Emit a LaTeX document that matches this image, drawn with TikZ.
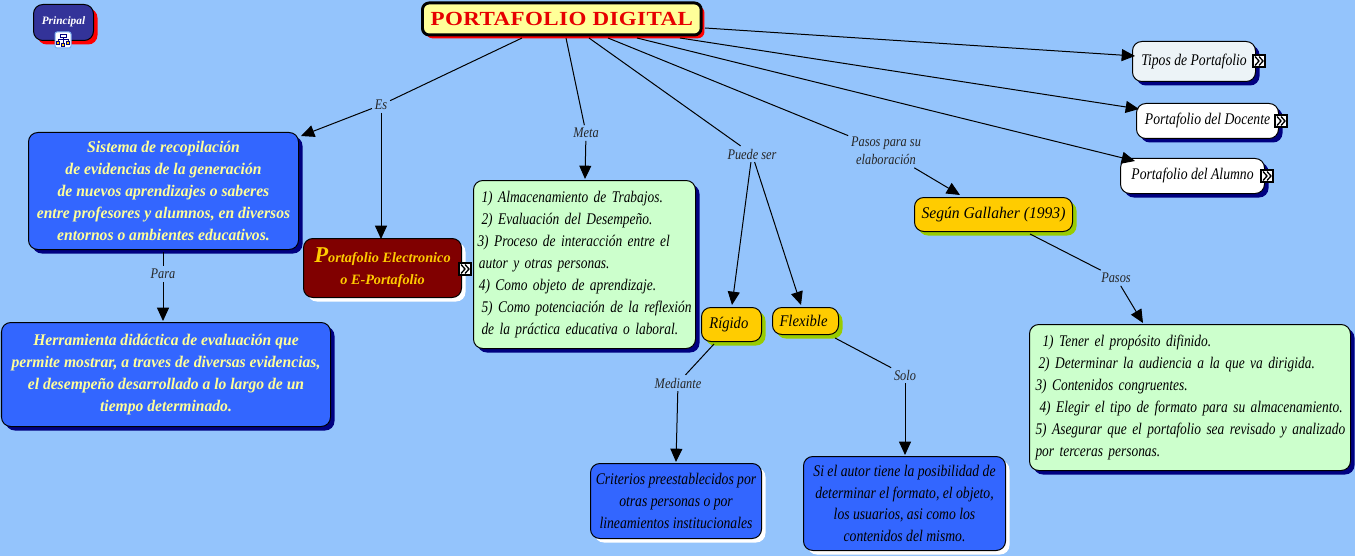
\documentclass[tikz,border=0pt]{standalone}
\usepackage{fontspec}
\setmainfont{Liberation Serif}
\newfontfamily\scr[FakeStretch=0.84]{Liberation Serif}
\newfontfamily\scl[FakeStretch=0.825]{Liberation Serif}
\newfontfamily\scg[FakeStretch=0.9]{Liberation Serif}
\newfontfamily\scb[FakeStretch=0.96]{Liberation Serif}
\newfontfamily\ttl[FakeStretch=1.15,LetterSpace=2]{Liberation Serif}
\usetikzlibrary{arrows.meta,shadows}
\definecolor{bgc}{HTML}{94C4FC}
\definecolor{blu}{HTML}{3366FF}
\definecolor{nav}{HTML}{000080}
\definecolor{lgr}{HTML}{CCFFCC}
\definecolor{gold}{HTML}{FFCC00}
\definecolor{lim}{HTML}{99CC00}
\definecolor{cre}{HTML}{FFFF99}
\definecolor{dred}{HTML}{800000}
\definecolor{ind}{HTML}{333399}
\tikzset{
 x=0.75pt,y=-0.75pt,
 sh/.style={general shadow={fill=#1,shadow xshift=3pt,shadow yshift=-3pt,opacity=1}},
 box/.style={draw=black,line width=0.75pt,rounded corners=7pt,inner sep=0pt,align=center,anchor=north west,font=\fontsize{12.2}{16.4}\selectfont\scr\itshape},
 bluebox/.style={box,fill=blu,text=cre,sh=nav,font=\fontsize{12.2}{16.4}\selectfont\scb\itshape\bfseries},
 listbox/.style={box,fill=lgr,sh=nav,text=black,align=left,font=\fontsize{12.2}{16.4}\selectfont\scl\itshape},
 goldbox/.style={box,fill=gold,sh=lim,font=\fontsize{12.2}{16.4}\selectfont\scg\itshape},
 whitebox/.style={box,fill=white,sh=nav},
 darkbox/.style={box,fill=blu,text=black,sh=white},
 lab/.style={font=\fontsize{11}{13.5}\selectfont\scr\itshape,text=black!85,inner sep=2pt,align=center},
 con/.style={draw=black,line width=0.75pt},
 arr/.style={con,-{Triangle[length=10pt,width=9pt]}},
 pics/chev/.style={code={
  \draw[fill=white,draw=black,line width=0.8pt] (-6,-6) rectangle (6,6);
  \draw[line width=1pt,line join=miter] (-4,-4.5) -- (0,0) -- (-4,4.5) (0,-4.5) -- (4,0) -- (0,4.5);
 }},
}
\begin{document}
\begin{tikzpicture}
\useasboundingbox[fill=bgc] (0,0) rectangle (1355,556);
% nodes
\node[box,fill=ind,text=white,minimum width=45pt,minimum height=27pt,sh=red,font=\fontsize{8.5}{10}\selectfont\itshape\bfseries] (prin) at (33,4) {\raisebox{3pt}{Principal}};
\node[draw=black,line width=2.2pt,rounded corners=5pt,fill=cre,text={rgb,255:red,230;green,0;blue,0},anchor=north west,inner sep=0pt,minimum width=209pt,minimum height=24pt,general shadow={fill=red,shadow xshift=2.5pt,shadow yshift=-2.5pt,opacity=1},font=\fontsize{15}{17}\selectfont\ttl\bfseries] (title) at (421,1.5) {PORTAFOLIO DIGITAL};
\node[bluebox,minimum width=202.5pt,minimum height=87.75pt] (sis) at (28,132) {Sistema de recopilación\\de evidencias de la generación\\de nuevos aprendizajes o saberes\\entre profesores y alumnos, en diversos\\entornos o ambientes educativos.};
\node[bluebox,minimum width=246.75pt,minimum height=78pt] (her) at (1,322) {Herramienta didáctica de evaluación que\\permite mostrar, a traves de diversas evidencias,\\el desempeño desarrollado a lo largo de un\\tiempo determinado.};
\node[box,fill=dred,text=gold,sh=white,minimum width=118.5pt,minimum height=44.25pt,font=\fontsize{10.7}{16.4}\selectfont\itshape\bfseries] (ele) at (303,238) {{\fontsize{17}{17}\selectfont P}ortafolio Electronico\\o E-Portafolio};
\node[listbox,text width=166.5pt,minimum height=126pt] (l1) at (473,180) {\hspace*{6pt}1) Almacenamiento de Trabajos.\\\hspace*{6pt}2) Evaluación del Desempeño.\\\hspace*{3pt}3) Proceso de interacción entre el\\\hspace*{4pt}autor y otras personas.\\\hspace*{4pt}4) Como objeto de aprendizaje.\\\hspace*{6pt}5) Como potenciación de la reflexión\\\hspace*{6pt}de la práctica educativa o laboral.};
\node[goldbox,minimum width=45pt,minimum height=25.5pt] (rig) at (701,307) {Rígido\hspace*{4pt}};
\node[goldbox,minimum width=49.5pt,minimum height=20.25pt] (fle) at (772,307) {Flexible\hspace*{3pt}};
\node[goldbox,minimum width=118.5pt,minimum height=25.5pt] (seg) at (914,197) {{\scb\itshape Según Gallaher (1993)}};
\node[listbox,text width=240.75pt,minimum height=109.5pt] (l2) at (1029,324) {\hspace*{9.75pt}1) Tener el propósito difinido.\\\hspace*{6.75pt}2) Determinar la audiencia a la que va dirigida.\\\hspace*{4.5pt}3) Contenidos congruentes.\\\hspace*{7.5pt}4) Elegir el tipo de formato para su almacenamiento.\\\hspace*{4.5pt}5) Asegurar que el portafolio sea revisado y analizado\\\hspace*{4.5pt}por terceras personas.};
\node[darkbox,minimum width=128.25pt,minimum height=56.25pt] (cri) at (590,463) {Criterios preestablecidos por\\otras personas o por\\lineamientos institucionales};
\node[darkbox,minimum width=151.5pt,minimum height=70.5pt] (sia) at (803,456) {Si el autor tiene la posibilidad de\\determinar el formato, el objeto,\\los usuarios, asi como los\\contenidos del mismo.};
\node[whitebox,fill={rgb,255:red,236;green,243;blue,247},minimum width=92.25pt,minimum height=30pt] (tip) at (1132,41) {Tipos de Portafolio};
\node[whitebox,minimum width=106.5pt,minimum height=26.25pt] (doc) at (1136,103) {Portafolio del Docente};
\node[whitebox,minimum width=108pt,minimum height=26.25pt] (alu) at (1120,158) {Portafolio del Alumno};
% labels
\node[lab] (es) at (381,105) {Es};
\node[lab] (meta) at (586,133) {Meta};
\node[lab] (pue) at (752,154) {Puede ser};
\node[lab] (pas) at (886,151) {Pasos para su\\elaboración};
\node[lab] (para) at (163,274) {Para};
\node[lab] (med) at (678,383) {Mediante};
\node[lab] (solo) at (905,375) {Solo};
\node[lab] (pas2) at (1116,278) {Pasos};
% connector ends on the title and other boxes
\coordinate (t1) at (522,38);
\coordinate (t2) at (566,38);
\coordinate (t3) at (589,38);
\coordinate (t4) at (608,38);
\coordinate (t5) at (637,38);
\coordinate (t6) at (680,38);
\coordinate (t7) at (705,28);
\coordinate (r1) at (714,344);
\coordinate (f1) at (835,338);
\coordinate (s1) at (1030,234);
\coordinate (b1) at (163,252);
\coordinate (sisp) at (301,136);
\coordinate (elep) at (381,239);
\coordinate (l1p) at (585,179);
\coordinate (rigp) at (732,305);
\coordinate (flep) at (801,305);
\coordinate (segp) at (960,195);
\coordinate (l2p) at (1143,323);
\coordinate (herp) at (163,321);
\coordinate (crip) at (676,462);
\coordinate (siap) at (905,455);
\coordinate (tipp) at (1135,56);
\coordinate (docp) at (1139,109);
\coordinate (alup) at (1135,161);
% connectors
\draw[con] (t1) -- (es);
\draw[arr] (es) -- (sisp);
\draw[arr] (es) -- (elep);
\draw[con] (t2) -- (meta);
\draw[arr] (meta) -- (l1p);
\draw[con] (t3) -- (pue);
\draw[arr] (pue) -- (rigp);
\draw[arr] (pue) -- (flep);
\draw[con] (t4) -- (pas);
\draw[arr] (pas) -- (segp);
\draw[arr] (t5) -- (alup);
\draw[arr] (t6) -- (docp);
\draw[arr] (t7) -- (tipp);
\draw[con] (b1) -- (para);
\draw[arr] (para) -- (herp);
\draw[con] (r1) -- (med);
\draw[arr] (med) -- (crip);
\draw[con] (f1) -- (solo);
\draw[arr] (solo) -- (siap);
\draw[con] (s1) -- (pas2);
\draw[arr] (pas2) -- (l2p);
% icons
\pic at (1259,61) {chev};
\pic at (1281,121) {chev};
\pic at (1267,176) {chev};
\pic at (465,269) {chev};
\draw[fill=white,draw={rgb,255:red,120;green,170;blue,240},line width=0.75pt,rounded corners=1.5pt] (55,32) rectangle (71,48);
\draw[draw=nav,line width=0.6pt] (60,34) rectangle (66,37) (63,37) -- (63,43) (58,39) -- (68,39) (58,39) -- (58,41) (68,39) -- (68,41);
\draw[draw=nav,fill=gold,line width=0.5pt] (56.5,41) rectangle (59.5,44) (61.5,43) rectangle (64.5,46) (66.5,41) rectangle (69.5,44);
\end{tikzpicture}
\end{document}
